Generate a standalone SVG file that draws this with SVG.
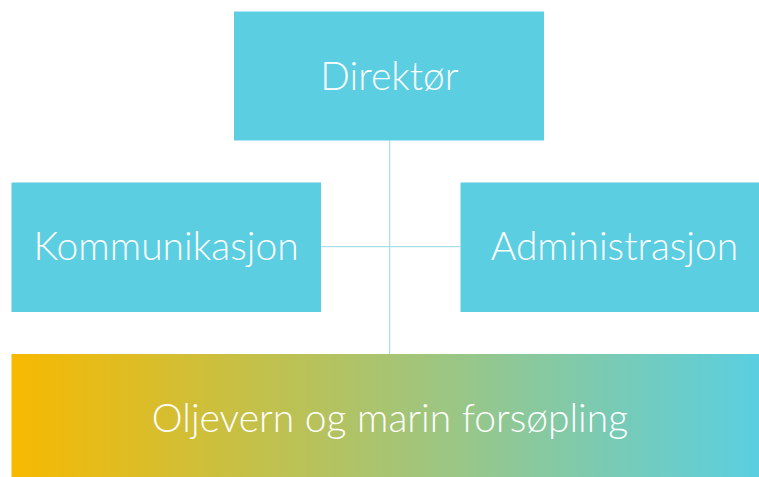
<svg xmlns="http://www.w3.org/2000/svg" width="759" height="477" viewBox="0 0 759 477">
<defs>
<style>
.box{fill:#5BCEE1}
.lbl{font-family:Lato,"Open Sans","DejaVu Sans",sans-serif;font-weight:300;font-size:39px;fill:#FFFFFF;text-anchor:middle}
.conn{stroke:#A9DDE8;stroke-width:1.2;fill:none}
</style>
<linearGradient id="grad" x1="0" y1="0" x2="1" y2="0">
<stop offset="0" stop-color="#F7B900"/>
<stop offset="1" stop-color="#5ACFE1"/>
</linearGradient>
</defs>
<rect width="759" height="477" fill="#FFFFFF"/>
<g id="connectors">
<line class="conn" x1="389.7" y1="140" x2="389.7" y2="354"/>
<line class="conn" x1="321" y1="246.7" x2="460" y2="246.7"/>
</g>
<g id="direktor">
<rect class="box" x="234" y="11.5" width="310" height="129"/>
<text class="lbl" x="389.5" y="89.5">Direktør</text>
</g>
<g id="kommunikasjon">
<rect class="box" x="11.5" y="182.5" width="309.5" height="129.5"/>
<text class="lbl" x="166" y="260">Kommunikasjon</text>
</g>
<g id="administrasjon">
<rect class="box" x="460.5" y="182.5" width="298.5" height="129.5"/>
<text class="lbl" x="614.5" y="260">Administrasjon</text>
</g>
<g id="oljevern">
<rect x="11.5" y="354" width="747.5" height="123" fill="url(#grad)"/>
<text class="lbl" x="390" y="432">Oljevern og marin forsøpling</text>
</g>
</svg>
